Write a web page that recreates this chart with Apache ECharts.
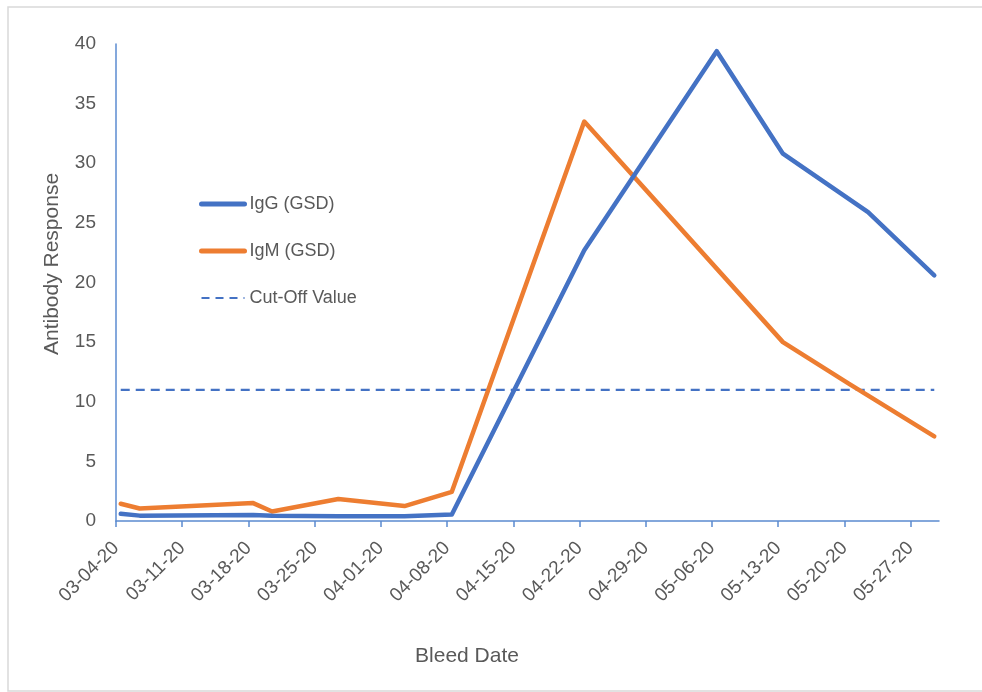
<!DOCTYPE html>
<html>
<head>
<meta charset="utf-8">
<script src="https://cdn.jsdelivr.net/npm/echarts@6/dist/echarts.min.js"></script>
<style>
html,body{margin:0;padding:0;background:#fff;}
#chart{width:982px;height:692px;}
</style>
</head>
<body>
<div id="chart"></div>
<script>
// ---- data ----
const startDate = '2020-03-04';
const igGDates = ['2020-03-04','2020-03-06','2020-03-18','2020-03-20','2020-03-27','2020-04-03','2020-04-08','2020-04-22','2020-05-06','2020-05-13','2020-05-22','2020-05-29'];
const igGValues = [0.6, 0.45, 0.5, 0.45, 0.4, 0.4, 0.55, 22.7, 39.4, 30.8, 25.9, 20.6];
const igMDates = ['2020-03-04','2020-03-06','2020-03-18','2020-03-20','2020-03-27','2020-04-03','2020-04-08','2020-04-22','2020-05-13','2020-05-20','2020-05-29'];
const igMValues = [1.45, 1.05, 1.5, 0.8, 1.85, 1.25, 2.45, 33.5, 15.0, 11.5, 7.1];
const cutOffDates = ['2020-03-04','2020-05-29'];
const cutOffValues = [11, 11];
const seriesNames = ['IgG (GSD)', 'IgM (GSD)', 'Cut-Off Value'];
const xTitle = 'Bleed Date';
const yTitle = 'Antibody Response';
const axisDays = 87;        // axis spans 03-04-20 .. end of 05-29-20
const tickStepDays = 7;

const DAY = 86400000;
const t0 = Date.parse(startDate + 'T00:00:00Z');
// Excel date axis places points in the middle of each day unit
function dayPos(d){ return (Date.parse(d + 'T00:00:00Z') - t0) / DAY + 0.5; }
function pairs(dates, vals){ return dates.map((d,i)=>[dayPos(d), vals[i]]); }
function fmt(day){
  const dt = new Date(t0 + Math.round(day) * DAY);
  const mm = String(dt.getUTCMonth()+1).padStart(2,'0');
  const dd = String(dt.getUTCDate()).padStart(2,'0');
  const yy = String(dt.getUTCFullYear()).slice(2);
  return mm + '-' + dd + '-' + yy;
}

const FONT = 'Liberation Sans';
const TXT = '#595959';
const AX = '#5b8bd0';
const BLUE = '#4472C4', ORANGE = '#ED7D31';

const chart = echarts.init(document.getElementById('chart'), null, {renderer:'canvas'});
chart.setOption({
  animation: false,
  backgroundColor: '#fff',
  textStyle: {fontFamily: FONT},
  graphic: [
    {type: 'rect', silent: true, z: -1,
     shape: {x: 8, y: 7, width: 990, height: 684},
     style: {fill: 'none', stroke: '#d9d9d9', lineWidth: 1.5}},
    {type: 'text', silent: true, x: 467, y: 656,
     style: {text: xTitle, fill: TXT, font: '21px "' + FONT + '"', align: 'center', verticalAlign: 'middle'}},
    {type: 'text', silent: true, x: 52, y: 264, rotation: Math.PI / 2,
     style: {text: yTitle, fill: TXT, font: '21px "' + FONT + '"', align: 'center', verticalAlign: 'middle'}}
  ],
  grid: {left: 116, right: 43, top: 44, bottom: 171, containLabel: false},
  legend: {
    orient: 'vertical', left: 194, top: 189,
    itemWidth: 43, itemHeight: 14, itemGap: 27,
    itemStyle: {opacity: 0},
    data: [
      {name: seriesNames[0], lineStyle: {width: 5, color: BLUE}},
      {name: seriesNames[1], lineStyle: {width: 5, color: ORANGE}},
      {name: seriesNames[2], lineStyle: {width: 2.2, color: BLUE, type: [8, 6]}}
    ],
    textStyle: {color: TXT, fontSize: 18, fontFamily: FONT, lineHeight: 20}
  },
  xAxis: {
    type: 'value', min: 0, max: axisDays, interval: tickStepDays,
    axisLine: {show: true, lineStyle: {color: AX, width: 1.5}},
    axisTick: {show: true, length: 6, lineStyle: {color: AX, width: 1.5}},
    splitLine: {show: false},
    axisLabel: {
      rotate: 45, margin: 24, color: TXT, fontSize: 19, fontFamily: FONT,
      padding: [0, 0, 0, 0],
      formatter: v => fmt(v),
      showMaxLabel: false
    }
  },
  yAxis: {
    type: 'value', min: 0, max: 40, interval: 5,
    axisLine: {show: true, lineStyle: {color: AX, width: 1.5}},
    axisTick: {show: false},
    splitLine: {show: false},
    axisLabel: {margin: 20, color: TXT, fontSize: 19, fontFamily: FONT}
  },
  series: [
    {name: seriesNames[0], type: 'line', data: pairs(igGDates, igGValues), showSymbol: false, symbol: 'none',
     lineStyle: {color: BLUE, width: 4.5, cap: 'round', join: 'round'}, itemStyle: {color: BLUE}, z: 3},
    {name: seriesNames[1], type: 'line', data: pairs(igMDates, igMValues), showSymbol: false, symbol: 'none',
     lineStyle: {color: ORANGE, width: 4.5, cap: 'round', join: 'round'}, itemStyle: {color: ORANGE}, z: 2},
    {name: seriesNames[2], type: 'line', data: pairs(cutOffDates, cutOffValues), showSymbol: false, symbol: 'none',
     lineStyle: {color: BLUE, width: 2.2, type: [9, 6]}, itemStyle: {color: BLUE}, z: 1}
  ]
});
</script>
</body>
</html>
